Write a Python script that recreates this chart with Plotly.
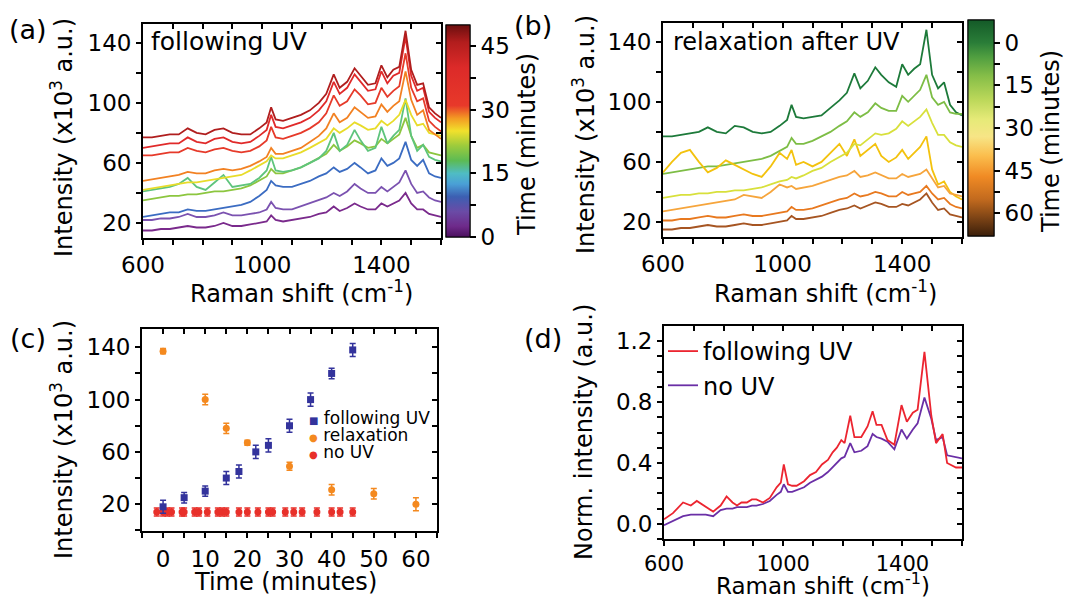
import plotly.graph_objects as go

W, H = 1067, 598

# ---------------- DATA ----------------
raman_ab = [600, 630, 660, 690, 720, 750, 780, 810, 840, 870,
            900, 930, 960, 990, 1015, 1030, 1045, 1070, 1100, 1130,
            1160, 1190, 1215, 1240, 1260, 1285, 1310, 1330, 1355, 1380,
            1400, 1420, 1440, 1460, 1481, 1500, 1520, 1540, 1560, 1580,
            1600]

# (a) following UV, x10^3 a.u.
a_purple = [15, 15, 16, 16, 17, 18, 17, 17, 18, 20,
            18, 18, 19, 20, 21, 25, 22, 21, 22, 23,
            24, 26, 27, 31, 28, 30, 33, 31, 29, 29,
            33, 31, 33, 35, 40, 33, 29, 29, 26, 25,
            24]
a_violet = [22, 22, 23, 23, 24, 26, 24, 24, 25, 27,
            25, 25, 26, 27, 29, 34, 30, 29, 29, 31,
            33, 35, 37, 40, 38, 41, 46, 43, 40, 40,
            44, 41, 44, 47, 55, 46, 40, 41, 37, 35,
            34]
a_blue = [24, 25, 26, 27, 27, 29, 28, 28, 29, 30,
          31, 32, 34, 38, 42, 48, 45, 44, 44, 46,
          48, 51, 53, 57, 54, 56, 60, 57, 53, 55,
          63, 58, 60, 63, 74, 62, 58, 62, 53, 51,
          50]
a_lime = [35, 36, 37, 38, 38, 39, 39, 40, 41, 41,
          42, 43, 45, 48, 51, 56, 53, 53, 55, 57,
          60, 63, 66, 72, 68, 71, 75, 73, 70, 71,
          76, 73, 76, 79, 90, 78, 70, 72, 67, 66,
          65]
a_mint = [41, 42, 43, 44, 46, 50, 44, 42, 47, 52,
          44, 45, 46, 50, 55, 64, 55, 54, 55, 57,
          60, 63, 68, 80, 68, 72, 82, 75, 68, 70,
          84, 73, 78, 82, 103, 78, 68, 72, 64, 62,
          61]
a_yellow = [42, 43, 44, 45, 46, 47, 47, 48, 49, 50,
            51, 52, 55, 58, 61, 65, 63, 63, 65, 67,
            70, 73, 76, 83, 80, 83, 87, 85, 82, 83,
            88, 85, 88, 92, 102, 92, 85, 86, 80, 79,
            78]
a_orange = [48, 49, 50, 51, 52, 54, 53, 53, 55, 56,
            55, 56, 58, 61, 64, 70, 66, 66, 68, 70,
            74, 78, 83, 93, 87, 90, 97, 94, 90, 91,
            99, 94, 98, 101, 121, 102, 92, 95, 82, 79,
            76]
a_red3 = [65, 65, 66, 67, 67, 70, 68, 67, 69, 70,
          68, 67, 68, 71, 75, 84, 77, 76, 78, 80,
          83, 87, 93, 105, 98, 101, 109, 105, 99, 100,
          110, 104, 108, 111, 133, 110, 101, 103, 88, 84,
          81]
a_red2 = [70, 71, 72, 73, 73, 77, 74, 73, 76, 77,
          74, 73, 74, 78, 82, 92, 84, 83, 85, 87,
          90, 95, 101, 114, 106, 110, 119, 114, 108, 109,
          121, 113, 118, 120, 144, 118, 108, 110, 94, 90,
          87]
a_darkred = [77, 77, 78, 79, 79, 83, 80, 79, 82, 83,
             80, 79, 79, 83, 87, 97, 89, 88, 90, 92,
             95, 100, 106, 119, 110, 114, 123, 118, 112, 113,
             125, 117, 122, 124, 148, 122, 112, 113, 97, 93,
             90]
a_series = [a_purple, a_violet, a_blue, a_lime, a_mint,
            a_yellow, a_orange, a_red3, a_red2, a_darkred]
a_times = [0, 5, 10, 20, 16, 25, 29, 35, 40, 46]

# (b) relaxation after UV
b_green0 = [77, 77, 78, 79, 80, 83, 80, 79, 84, 83,
            80, 79, 80, 84, 88, 98, 90, 89, 90, 91,
            96, 101, 106, 119, 109, 114, 123, 118, 113, 110,
            125, 118, 122, 125, 148, 118, 109, 113, 98, 93,
            91]
b_green10 = [52, 53, 54, 55, 56, 57, 57, 58, 59, 60,
             61, 62, 64, 67, 70, 76, 72, 72, 74, 77,
             80, 84, 87, 93, 90, 93, 99, 96, 94, 94,
             104, 100, 104, 108, 118, 103, 98, 100, 93, 92,
             92]
b_gold = [53, 60, 66, 68, 60, 53, 56, 61, 58, 55,
          52, 50, 57, 66, 62, 68, 58, 60, 57, 60,
          66, 72, 64, 75, 64, 68, 72, 64, 60, 63,
          68, 62, 66, 70, 77, 55, 45, 47, 40, 37,
          35]
b_lime = [36, 37, 38, 38, 39, 39, 40, 40, 41, 41,
          42, 43, 45, 47, 48, 50, 49, 51, 54, 56,
          60, 63, 66, 72, 71, 75, 79, 78, 79, 82,
          87, 84, 87, 90, 95, 86, 78, 78, 73, 71,
          70]
b_lightorange = [27, 28, 29, 30, 31, 32, 33, 34, 35, 38,
                 37, 36, 40, 45, 43, 44, 42, 43, 44, 46,
                 48, 50, 51, 54, 50, 51, 53, 51, 49, 49,
                 52, 50, 51, 52, 55, 49, 43, 44, 39, 38,
                 37]
b_orange = [21, 21, 22, 22, 23, 24, 23, 23, 24, 25,
            24, 24, 25, 26, 27, 30, 28, 28, 29, 31,
            33, 35, 36, 39, 37, 38, 40, 39, 37, 37,
            40, 38, 39, 40, 44, 39, 35, 36, 32, 30,
            29]
b_brown = [15, 15, 16, 16, 17, 18, 17, 17, 18, 19,
           18, 18, 19, 20, 21, 24, 22, 22, 23, 24,
           26, 28, 29, 31, 29, 31, 33, 32, 30, 30,
           32, 31, 33, 35, 39, 33, 28, 29, 25, 24,
           23]
b_series = [b_green0, b_green10, b_gold, b_lime, b_lightorange, b_orange, b_brown]
b_times = [0, 10, 35, 25, 45, 50, 60]

# (c) intensity vs time
uv_t = [0, 5, 10, 15, 18, 22, 25, 30, 35, 40, 45]
uv_I = [18, 25, 30, 40, 45, 60, 65, 80, 100, 120, 138]
uv_err = [5, 4, 4, 5, 5, 5, 5, 5, 5, 4, 5]
relax_t = [0, 10, 15, 20, 30, 40, 50, 60]
relax_I = [137, 100, 78, 67, 49, 31, 28, 20]
relax_err = [2, 4, 4, 2, 3, 4, 4, 5]
nouv_t = [-1.5, 0, 1, 2, 4.5, 5, 7.5, 8.5, 10.5, 13, 14, 15,
          18, 20, 22.5, 25, 26, 29, 31, 33, 36.5, 40, 42, 45]
nouv_I = [14, 14, 14, 14, 14, 14, 14, 14, 14, 14, 14, 14,
          14, 14, 14, 14, 14, 14, 14, 14, 14, 14, 14, 14]
nouv_err = [3, 3, 3, 3, 3, 3, 3, 3, 3, 3, 3, 3,
            3, 3, 3, 3, 3, 3, 3, 3, 3, 3, 3, 3]

# (d) normalised spectra
raman_d = [600, 630, 664, 690, 710, 740, 765, 790, 810, 830,
           845, 860, 878, 895, 910, 932, 955, 978, 992, 1002,
           1016, 1030, 1045, 1070, 1090, 1110, 1130, 1150, 1166, 1180,
           1195, 1206, 1225, 1239, 1262, 1283, 1300, 1313, 1330, 1350,
           1373, 1397, 1415, 1435, 1451, 1474, 1497, 1513, 1535, 1550,
           1580, 1600]
d_uv = [0.03, 0.07, 0.14, 0.12, 0.15, 0.11, 0.08, 0.12, 0.18, 0.14,
        0.12, 0.14, 0.14, 0.16, 0.16, 0.14, 0.17, 0.24, 0.27, 0.39,
        0.26, 0.25, 0.25, 0.28, 0.32, 0.34, 0.39, 0.42, 0.47, 0.50,
        0.55, 0.53, 0.71, 0.57, 0.57, 0.64, 0.74, 0.65, 0.65, 0.55,
        0.52, 0.78, 0.67, 0.73, 0.75, 1.13, 0.71, 0.53, 0.59, 0.40,
        0.37, 0.37]
d_nouv = [-0.01, 0.02, 0.05, 0.06, 0.06, 0.06, 0.05, 0.09, 0.10, 0.10,
          0.11, 0.11, 0.11, 0.12, 0.12, 0.13, 0.15, 0.19, 0.21, 0.26,
          0.21, 0.21, 0.22, 0.24, 0.27, 0.29, 0.31, 0.34, 0.37, 0.40,
          0.43, 0.44, 0.53, 0.47, 0.48, 0.51, 0.59, 0.57, 0.56, 0.54,
          0.49, 0.62, 0.56, 0.62, 0.66, 0.83, 0.69, 0.55, 0.57, 0.45,
          0.44, 0.43]

# tick values / labels
raman_ticks = [600, 1000, 1400]
raman_minor = [700, 800, 900, 1100, 1200, 1300, 1500, 1600]
int_ticks = [20, 60, 100, 140]
int_minor = [40, 80, 120]
time_ticks = [0, 10, 20, 30, 40, 50, 60]
time_minor = [-5, 5, 15, 25, 35, 45, 55, 65]
cint_ticks = [20, 60, 100, 140]
cint_minor = [0, 40, 80, 120]
norm_ticks = [0.0, 0.4, 0.8, 1.2]
norm_ticktext = ['0.0', '0.4', '0.8', '1.2']
norm_minor = [-0.1, 0.1, 0.2, 0.3, 0.5, 0.6, 0.7, 0.9, 1.0, 1.1]
cb_a_ticks = [0, 15, 30, 45]
cb_a_minor = [7.5, 22.5, 37.5]
cb_b_ticks = [0, -15, -30, -45, -60]
cb_b_text = ['0', '15', '30', '45', '60']
cb_b_minor = [-7.5, -22.5, -37.5, -52.5]

# ---------------- STYLE ----------------
FONT = 'DejaVu Sans'
a_colors = ['#7a2a8c', '#7b52b0', '#3b6cc2', '#8cc63f', '#5ec47c',
            '#e8dc2a', '#f28122', '#e63a2a', '#e02a2a', '#b01e1e']
b_colors = ['#1d7a3a', '#7dbd45', '#f3c20e', '#d8e03c', '#f6a53c', '#e8791f', '#a65522']
scale_a = [[0.00, '#4b0f5e'], [0.05, '#6e2a8a'], [0.12, '#6a4ba6'], [0.19, '#3c5fb2'],
           [0.25, '#4aa0d6'], [0.30, '#4fbcc4'], [0.36, '#5cbb54'], [0.43, '#9ccb3c'],
           [0.50, '#f1e12c'], [0.56, '#f39a23'], [0.62, '#e8392a'], [0.80, '#dc2a29'],
           [0.92, '#b21d1d'], [1.00, '#6b0f0f']]
scale_b = [[0.000, '#3b1f0a'], [0.080, '#7a4215'], [0.170, '#c26a1e'], [0.275, '#f08a24'],
           [0.370, '#fbbd4c'], [0.460, '#f7e586'], [0.540, '#e6ea78'], [0.630, '#bcd85a'],
           [0.740, '#86be48'], [0.830, '#4f9e40'], [0.895, '#2a7d38'], [1.000, '#145a28']]
C_UV, C_RELAX, C_NOUV = '#33339c', '#f4891f', '#e8302a'

fig = go.Figure()

panels = {
    'a': dict(x='x', y='y', mx='x5', my='y5', xs=(143, 441), ys=(24, 238)),
    'b': dict(x='x2', y='y2', mx='x6', my='y6', xs=(663, 962), ys=(23, 237)),
    'c': dict(x='x3', y='y3', mx='x7', my='y7', xs=(142, 437), ys=(329, 531)),
    'd': dict(x='x4', y='y4', mx='x8', my='y8', xs=(664, 962), ys=(326, 539)),
}


def lname(ax):
    return ax[0] + 'axis' + ax[1:]


AX = dict(showgrid=False, zeroline=False, showline=True, linecolor='black', linewidth=1.8,
          tickcolor='black', tickwidth=1.5, ticklen=5)


def minor(vals, side):
    return dict(tickvals=vals, ticks=side, ticklen=5, tickwidth=1.5, tickcolor='black', showgrid=False)


def setup(p, xr, yr, xt, xm, yt, ym, yttext=None, fsize=23, xfsize=None, xstand=0, ystand=0):
    g = panels[p]
    xd = [g['xs'][0] / W, g['xs'][1] / W]
    yd = [1 - g['ys'][1] / H, 1 - g['ys'][0] / H]
    tf = dict(family=FONT, size=fsize, color='black')
    xtf = dict(family=FONT, size=xfsize or fsize, color='black')
    yextra = dict(ticktext=yttext) if yttext else {}
    fig.layout[lname(g['x'])] = dict(AX, domain=xd, anchor=g['y'], range=xr, tickmode='array',
                                     tickvals=xt, ticks='outside', minor=minor(xm, 'outside'),
                                     tickfont=xtf, ticklabelstandoff=xstand)
    fig.layout[lname(g['y'])] = dict(AX, domain=yd, anchor=g['x'], range=yr, tickmode='array',
                                     tickvals=yt, ticks='outside', minor=minor(ym, 'outside'),
                                     tickfont=tf, ticklabelstandoff=ystand, **yextra)
    fig.layout[lname(g['mx'])] = dict(AX, overlaying=g['x'], anchor=g['my'], side='top', range=xr,
                                      tickmode='array', tickvals=xt, ticks='inside',
                                      minor=minor(xm, 'inside'), showticklabels=False)
    fig.layout[lname(g['my'])] = dict(AX, overlaying=g['y'], anchor=g['mx'], side='right', range=yr,
                                      tickmode='array', tickvals=yt, ticks='inside',
                                      minor=minor(ym, 'inside'), showticklabels=False)
    fig.add_trace(go.Scatter(x=[None], y=[None], xaxis=g['mx'], yaxis=g['my'],
                             showlegend=False, hoverinfo='skip'))


setup('a', [600, 1600], [10, 152.5], raman_ticks, raman_minor, int_ticks, int_minor)
setup('b', [600, 1600], [10, 152.5], raman_ticks, raman_minor, int_ticks, int_minor)
setup('c', [-5, 65], [-0.5, 154], time_ticks, time_minor, cint_ticks, cint_minor, fsize=23, xstand=1)
setup('d', [600, 1600], [-0.1, 1.3], raman_ticks, raman_minor, norm_ticks, norm_minor,
      yttext=norm_ticktext, fsize=23, xfsize=21)


def cbar(x, ymid, length, thick, vals, texts=None, labels=True):
    cb = dict(x=x / W, xanchor='left', y=1 - ymid / H, yanchor='middle', len=length, lenmode='pixels',
              thickness=thick, xpad=0, ypad=0, outlinewidth=1, outlinecolor='black',
              tickmode='array', tickvals=vals, ticks='outside',
              ticklen=6, tickwidth=1.5, tickcolor='black', showticklabels=labels,
              tickfont=dict(family=FONT, size=23, color='black'))
    if texts:
        cb['ticktext'] = texts
    return cb


def colorbar_trace(xa, ya, vals, scale, cmin, cmax, cb):
    return go.Scatter(x=[None] * len(vals), y=[None] * len(vals), mode='markers',
                      xaxis=xa, yaxis=ya, showlegend=False, hoverinfo='skip',
                      marker=dict(color=vals, colorscale=scale, cmin=cmin, cmax=cmax,
                                  showscale=True, colorbar=cb))


# (a) spectra
for ys, c in zip(a_series, a_colors):
    fig.add_trace(go.Scatter(x=raman_ab, y=ys, mode='lines', line=dict(color=c, width=1.8),
                             xaxis='x', yaxis='y', showlegend=False))
fig.add_trace(colorbar_trace('x', 'y', a_times, scale_a, 0, 50,
                             cbar(446, 131, 212, 24, cb_a_minor, labels=False)))
fig.add_trace(colorbar_trace('x', 'y', a_times, scale_a, 0, 50,
                             cbar(446, 131, 212, 24, cb_a_ticks)))

# (b) spectra
for ys, c in zip(b_series, b_colors):
    fig.add_trace(go.Scatter(x=raman_ab, y=ys, mode='lines', line=dict(color=c, width=1.8),
                             xaxis='x2', yaxis='y2', showlegend=False))
b_vals = [-t for t in b_times]
fig.add_trace(colorbar_trace('x2', 'y2', b_vals, scale_b, -68, 8,
                             cbar(968, 128, 216, 26, cb_b_minor, labels=False)))
fig.add_trace(colorbar_trace('x2', 'y2', b_vals, scale_b, -68, 8,
                             cbar(968, 128, 216, 26, cb_b_ticks, cb_b_text)))

# (c) points
for t, I, e, nm, sym, col in [(nouv_t, nouv_I, nouv_err, 'no UV', 'circle', C_NOUV),
                              (relax_t, relax_I, relax_err, 'relaxation', 'circle', C_RELAX),
                              (uv_t, uv_I, uv_err, 'following UV', 'square', C_UV)]:
    fig.add_trace(go.Scatter(x=t, y=I, mode='markers', name=nm, xaxis='x3', yaxis='y3',
                             marker=dict(symbol=sym, size=7, color=col),
                             error_y=dict(type='data', array=e, color=col, thickness=1.5, width=3),
                             showlegend=False))

# (d) lines
fig.add_trace(go.Scatter(x=raman_d, y=d_nouv, mode='lines', name='no UV', xaxis='x4', yaxis='y4',
                         line=dict(color='#6a2fa6', width=1.8), legend='legend2', legendrank=2))
fig.add_trace(go.Scatter(x=raman_d, y=d_uv, mode='lines', name='following UV', xaxis='x4', yaxis='y4',
                         line=dict(color='#ec2530', width=1.8), legend='legend2', legendrank=1))

ann = []


def text(x, y, t, size=24, xanchor='center', yanchor='middle', angle=0):
    ann.append(dict(x=x / W, y=1 - y / H, xref='paper', yref='paper', text=t, showarrow=False,
                    xanchor=xanchor, yanchor=yanchor, textangle=angle, borderpad=0,
                    font=dict(family=FONT, size=size, color='black')))


for lab, x, y in [('(a)', 28, 30), ('(b)', 533, 26), ('(c)', 28, 338), ('(d)', 543, 338)]:
    text(x, y, lab, size=27)
text(150, 42, 'following UV', size=25, xanchor='left')
text(672, 42, 'relaxation after UV', size=24, xanchor='left')
ytitle = 'Intensity (x10<sup>3</sup> a.u.)'
text(62, 138, ytitle, angle=-90)
text(584, 135, ytitle, angle=-90)
text(62, 440, ytitle, angle=-90)
text(584, 432, 'Norm. intensity (a.u.)', angle=-90)
xtitle = 'Raman shift (cm<sup>-1</sup>)'
text(301, 292, xtitle)
text(825, 292, xtitle)
text(285, 582, 'Time (minutes)')
text(823, 584, xtitle, size=23)
text(527, 145, 'Time (minutes)', angle=-90)
text(1051, 142, 'Time (minutes)', angle=-90)

# legend of (c), drawn as text rows
for yrow, sym, col, nm in [(418, '■', C_UV, 'following UV'), (435, '●', C_RELAX, 'relaxation'),
                           (452, '●', C_NOUV, 'no UV')]:
    text(308, yrow, '<span style="color:%s;font-size:10px">%s</span> %s' % (col, sym, nm),
         size=17, xanchor='left')

fig.update_layout(
    width=W, height=H, autosize=False,
    margin=dict(l=0, r=0, t=0, b=0, autoexpand=False),
    paper_bgcolor='white', plot_bgcolor='white',
    font=dict(family=FONT, color='black'),
    annotations=ann,
    legend2=dict(x=663 / W, y=1 - 329 / H, xanchor='left', yanchor='top', bgcolor='rgba(0,0,0,0)',
                 font=dict(family=FONT, size=24, color='black'), itemwidth=30, traceorder='normal'),
)

fig.write_html('out.html')
